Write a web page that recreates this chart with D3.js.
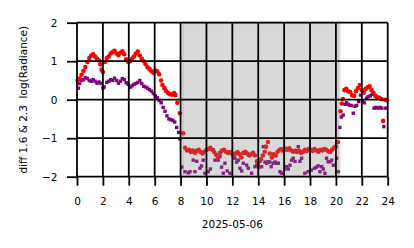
<!DOCTYPE html>
<html>
<head>
<meta charset="utf-8">
<script src="https://cdn.jsdelivr.net/npm/d3@7"></script>
<style>
  body { margin: 0; background: #fff; }
  text { font-family: "DejaVu Sans", sans-serif; fill: #000; }
</style>
</head>
<body>
<svg id="chart" width="414" height="248"></svg>
<script>
// hour of day, diff value
const redPts = [
  [0.05, 0.5], [0.2, 0.55], [0.35, 0.65], [0.5, 0.75], [0.65, 0.85], [0.8, 0.98], [0.95, 1.08], [1.1, 1.15],
  [1.25, 1.18], [1.4, 1.12], [1.55, 1.06], [1.7, 1.02], [1.8, 0.92], [1.9, 0.78], [2.0, 0.72], [2.15, 0.98],
  [2.3, 1.08], [2.45, 1.12], [2.6, 1.2], [2.75, 1.24], [2.9, 1.27], [3.05, 1.2], [3.2, 1.16], [3.35, 1.22],
  [3.5, 1.26], [3.65, 1.18], [3.8, 1.05], [3.95, 0.98], [4.1, 1.0], [4.25, 1.06], [4.4, 1.12], [4.55, 1.2],
  [4.7, 1.25], [4.85, 1.15], [5.0, 1.06], [5.15, 1.0], [5.3, 0.92], [5.45, 0.84], [5.6, 0.8], [5.75, 0.74],
  [5.9, 0.7], [6.05, 0.76], [6.2, 0.74], [6.35, 0.66], [6.5, 0.5], [6.6, 0.38], [6.75, 0.3], [6.9, 0.22],
  [7.05, 0.17], [7.2, 0.14], [7.35, 0.13], [7.5, 0.17], [7.6, 0.12], [7.75, -0.08], [7.95, -0.35], [8.2, -0.87],
  [8.35, -1.25], [8.5, -1.32], [8.65, -1.3], [8.8, -1.36], [8.95, -1.32], [9.1, -1.38], [9.25, -1.33], [9.4, -1.3],
  [9.55, -1.36], [9.7, -1.4], [9.85, -1.35], [10.0, -1.3], [10.15, -1.28], [10.3, -1.25], [10.45, -1.3], [10.6, -1.36],
  [10.75, -1.43], [10.9, -1.5], [11.05, -1.38], [11.2, -1.32], [11.35, -1.3], [11.5, -1.35], [11.65, -1.38], [11.8, -1.36],
  [11.95, -1.4], [12.1, -1.45], [12.25, -1.4], [12.4, -1.36], [12.55, -1.42], [12.7, -1.5], [12.85, -1.38], [13.0, -1.35],
  [13.15, -1.4], [13.3, -1.45], [13.45, -1.42], [13.6, -1.38], [13.75, -1.45], [13.9, -1.6], [14.05, -1.75], [14.2, -1.55],
  [14.35, -1.45], [14.5, -1.35], [14.6, -1.22], [14.75, -1.1], [14.9, -1.4], [15.05, -1.5], [15.2, -1.42], [15.35, -1.45],
  [15.5, -1.35], [15.65, -1.3], [15.8, -1.28], [15.95, -1.33], [16.1, -1.27], [16.25, -1.3], [16.4, -1.26], [16.55, -1.32],
  [16.7, -1.35], [16.85, -1.33], [17.0, -1.36], [17.15, -1.32], [17.3, -1.38], [17.45, -1.35], [17.6, -1.3], [17.75, -1.33],
  [17.9, -1.28], [18.05, -1.3], [18.2, -1.33], [18.35, -1.28], [18.5, -1.32], [18.65, -1.35], [18.8, -1.3], [18.95, -1.32],
  [19.1, -1.28], [19.25, -1.3], [19.4, -1.34], [19.55, -1.36], [19.7, -1.3], [19.85, -1.25], [20.0, -1.22], [20.15, -1.1],
  [20.35, -0.3], [20.45, -0.1], [20.55, 0.02], [20.65, 0.25], [20.8, 0.28], [20.95, 0.22], [21.1, 0.2], [21.25, 0.12],
  [21.4, 0.1], [21.55, 0.22], [21.7, 0.3], [21.85, 0.38], [22.0, 0.25], [22.15, 0.18], [22.3, 0.28], [22.45, 0.32],
  [22.6, 0.35], [22.75, 0.25], [22.9, 0.18], [23.05, 0.1], [23.2, 0.06], [23.35, 0.05], [23.5, 0.02], [23.65, -0.55],
  [23.8, 0.0], [23.95, -0.02]
];

const purplePts = [
  [0.1, 0.3], [0.2, 0.42], [0.35, 0.5], [0.5, 0.52], [0.65, 0.57], [0.8, 0.55], [0.95, 0.5], [1.1, 0.48],
  [1.25, 0.52], [1.4, 0.48], [1.55, 0.43], [1.7, 0.46], [1.85, 0.42], [2.0, 0.3], [2.1, 0.33], [2.3, 0.45],
  [2.45, 0.48], [2.6, 0.52], [2.75, 0.5], [2.9, 0.56], [3.05, 0.5], [3.2, 0.43], [3.35, 0.48], [3.5, 0.55],
  [3.65, 0.52], [3.8, 0.44], [3.95, 0.4], [4.1, 0.32], [4.25, 0.36], [4.4, 0.4], [4.55, 0.42], [4.7, 0.45],
  [4.85, 0.5], [5.0, 0.42], [5.15, 0.35], [5.3, 0.33], [5.45, 0.3], [5.6, 0.26], [5.75, 0.22], [5.9, 0.16],
  [6.05, 0.1], [6.2, 0.05], [6.35, -0.02], [6.5, -0.08], [6.65, -0.2], [6.8, -0.3], [6.95, -0.42], [7.1, -0.5],
  [7.25, -0.52], [7.4, -0.54], [7.55, -0.58], [7.7, -0.72], [7.85, -0.85], [7.95, -1.02], [8.1, -1.75],
  [8.34, -1.87], [8.6, -1.9], [8.73, -1.87], [8.98, -1.57], [9.11, -1.87], [9.25, -1.6], [9.5, -1.78], [9.62, -1.72],
  [9.75, -1.57], [9.88, -1.91], [10.14, -1.87], [10.3, -1.8], [10.53, -1.3], [10.66, -1.57], [10.91, -1.57], [11.04, -1.48],
  [11.17, -1.75], [11.3, -1.91], [11.43, -1.65], [11.6, -1.85], [11.81, -1.91], [12.2, -1.52], [12.33, -1.62], [12.46, -1.57],
  [12.59, -1.78], [12.72, -1.85], [12.84, -1.65], [12.97, -1.39], [13.1, -1.7], [13.23, -1.78], [13.49, -1.91], [13.75, -1.74],
  [13.88, -1.7], [14.0, -1.65], [14.13, -1.6], [14.26, -1.74], [14.39, -1.22], [14.52, -1.62], [14.65, -1.65], [14.77, -1.61],
  [14.9, -1.62], [15.0, -1.74], [15.15, -1.65], [15.3, -1.62], [15.42, -1.65], [15.55, -1.65], [15.68, -1.87], [15.8, -1.91],
  [16.06, -1.8], [16.19, -1.74], [16.32, -1.8], [16.45, -1.7], [16.58, -1.57], [16.7, -1.52], [16.84, -1.6], [17.09, -1.22],
  [17.22, -1.6], [17.35, -1.52], [17.6, -1.91], [17.85, -1.87], [18.1, -1.83], [18.35, -1.78], [18.5, -1.75], [18.63, -1.72],
  [18.76, -1.87], [18.9, -1.74], [19.02, -1.8], [19.15, -1.91], [19.28, -1.52], [19.4, -1.61], [19.54, -1.61], [19.67, -1.57],
  [19.8, -1.7], [20.05, -1.52], [20.18, -1.87],
  [20.3, -0.72], [20.42, -0.45], [20.56, -0.4], [20.7, -0.12], [20.82, -0.08], [20.95, -0.12], [21.08, -0.15], [21.2, -0.15],
  [21.34, -0.35], [21.47, -0.17], [21.6, -0.15], [21.75, -0.05], [21.9, 0.12], [22.05, -0.03], [22.2, -0.08], [22.37, 0.04],
  [22.5, 0.08], [22.65, 0.1], [22.8, 0.14], [22.95, -0.22], [23.1, -0.2], [23.25, -0.22], [23.4, -0.2], [23.55, -0.22],
  [23.7, -0.7], [23.85, -0.22]
];

const nightSpan = [8.15, 20.25];
const xTicks = [0, 2, 4, 6, 8, 10, 12, 14, 16, 18, 20, 22, 24];
const yTicks = [-2, -1, 0, 1, 2];
const xLabel = '2025-05-06';
const yLabel = 'diff 1.6 & 2.3  log(Radiance)';

const W = 414, H = 248;
const margin = { top: 22.7, right: 26.3, bottom: 71.3, left: 77 };
const width = W - margin.left - margin.right,
  height = H - margin.top - margin.bottom;

const svg = d3.select('#chart').append('g').attr('transform', `translate(${ margin.left }, ${ margin.top })`);

const x = d3.scaleLinear().domain([0, 24]).range([0, width]);
const y = d3.scaleLinear().domain([-2, 2]).range([height, 0]);

// MARKERS
svg.append('g').selectAll('rect').data(purplePts).join('rect')
  .attr('x', d => x(d[0]) - 1.7).attr('y', d => y(d[1]) - 1.7)
  .attr('width', 3.4).attr('height', 3.4)
  .style('fill', 'purple');

svg.append('g').selectAll('circle').data(redPts).join('circle')
  .attr('cx', d => x(d[0])).attr('cy', d => y(d[1])).attr('r', 2.3)
  .style('fill', '#ff0000');

// NIGHT SHADING (drawn over the markers)
svg.append('rect')
  .attr('x', x(nightSpan[0])).attr('y', 0)
  .attr('width', x(nightSpan[1]) - x(nightSpan[0])).attr('height', height)
  .style('fill', 'gray').style('fill-opacity', 0.3)
  .style('stroke', 'gray').style('stroke-opacity', 0.2).style('stroke-width', 3);

// GRID
const grid = svg.append('g').style('stroke', '#000').style('stroke-width', 1.8);
grid.selectAll('.gx').data(xTicks).join('line').attr('class', 'gx')
  .attr('x1', d => x(d)).attr('x2', d => x(d)).attr('y1', 0).attr('y2', height);
grid.selectAll('.gy').data(yTicks).join('line').attr('class', 'gy')
  .attr('x1', 0).attr('x2', width).attr('y1', d => y(d)).attr('y2', d => y(d));

// AXES
const xAxis = d3.axisBottom(x).tickValues(xTicks).tickSize(9).tickPadding(11.8).tickFormat(d3.format('d'));
const yAxis = d3.axisLeft(y).tickValues(yTicks).tickSize(10).tickPadding(9.5).tickFormat(d3.format('d'));

const gx = svg.append('g').attr('transform', `translate(0, ${ height })`).call(xAxis);
const gy = svg.append('g').call(yAxis);
[gx, gy].forEach(g => {
  g.select('.domain').remove();
  g.selectAll('.tick line').style('stroke', '#000').style('stroke-width', 1.8);
  g.selectAll('.tick text').style('font-size', '10.5px').style('font-family', '"DejaVu Sans", sans-serif');
});

svg.append('text')
  .attr('x', width / 2).attr('y', 227.7 - margin.top)
  .attr('text-anchor', 'middle').style('font-size', '10.5px')
  .text(xLabel);

svg.append('text')
  .attr('transform', `translate(${ 23 - margin.left }, ${ height / 2 }) rotate(-90)`)
  .attr('text-anchor', 'middle').attr('dy', '0.35em')
  .style('font-size', '10.5px').style('white-space', 'pre')
  .text(yLabel);
</script>
</body>
</html>
